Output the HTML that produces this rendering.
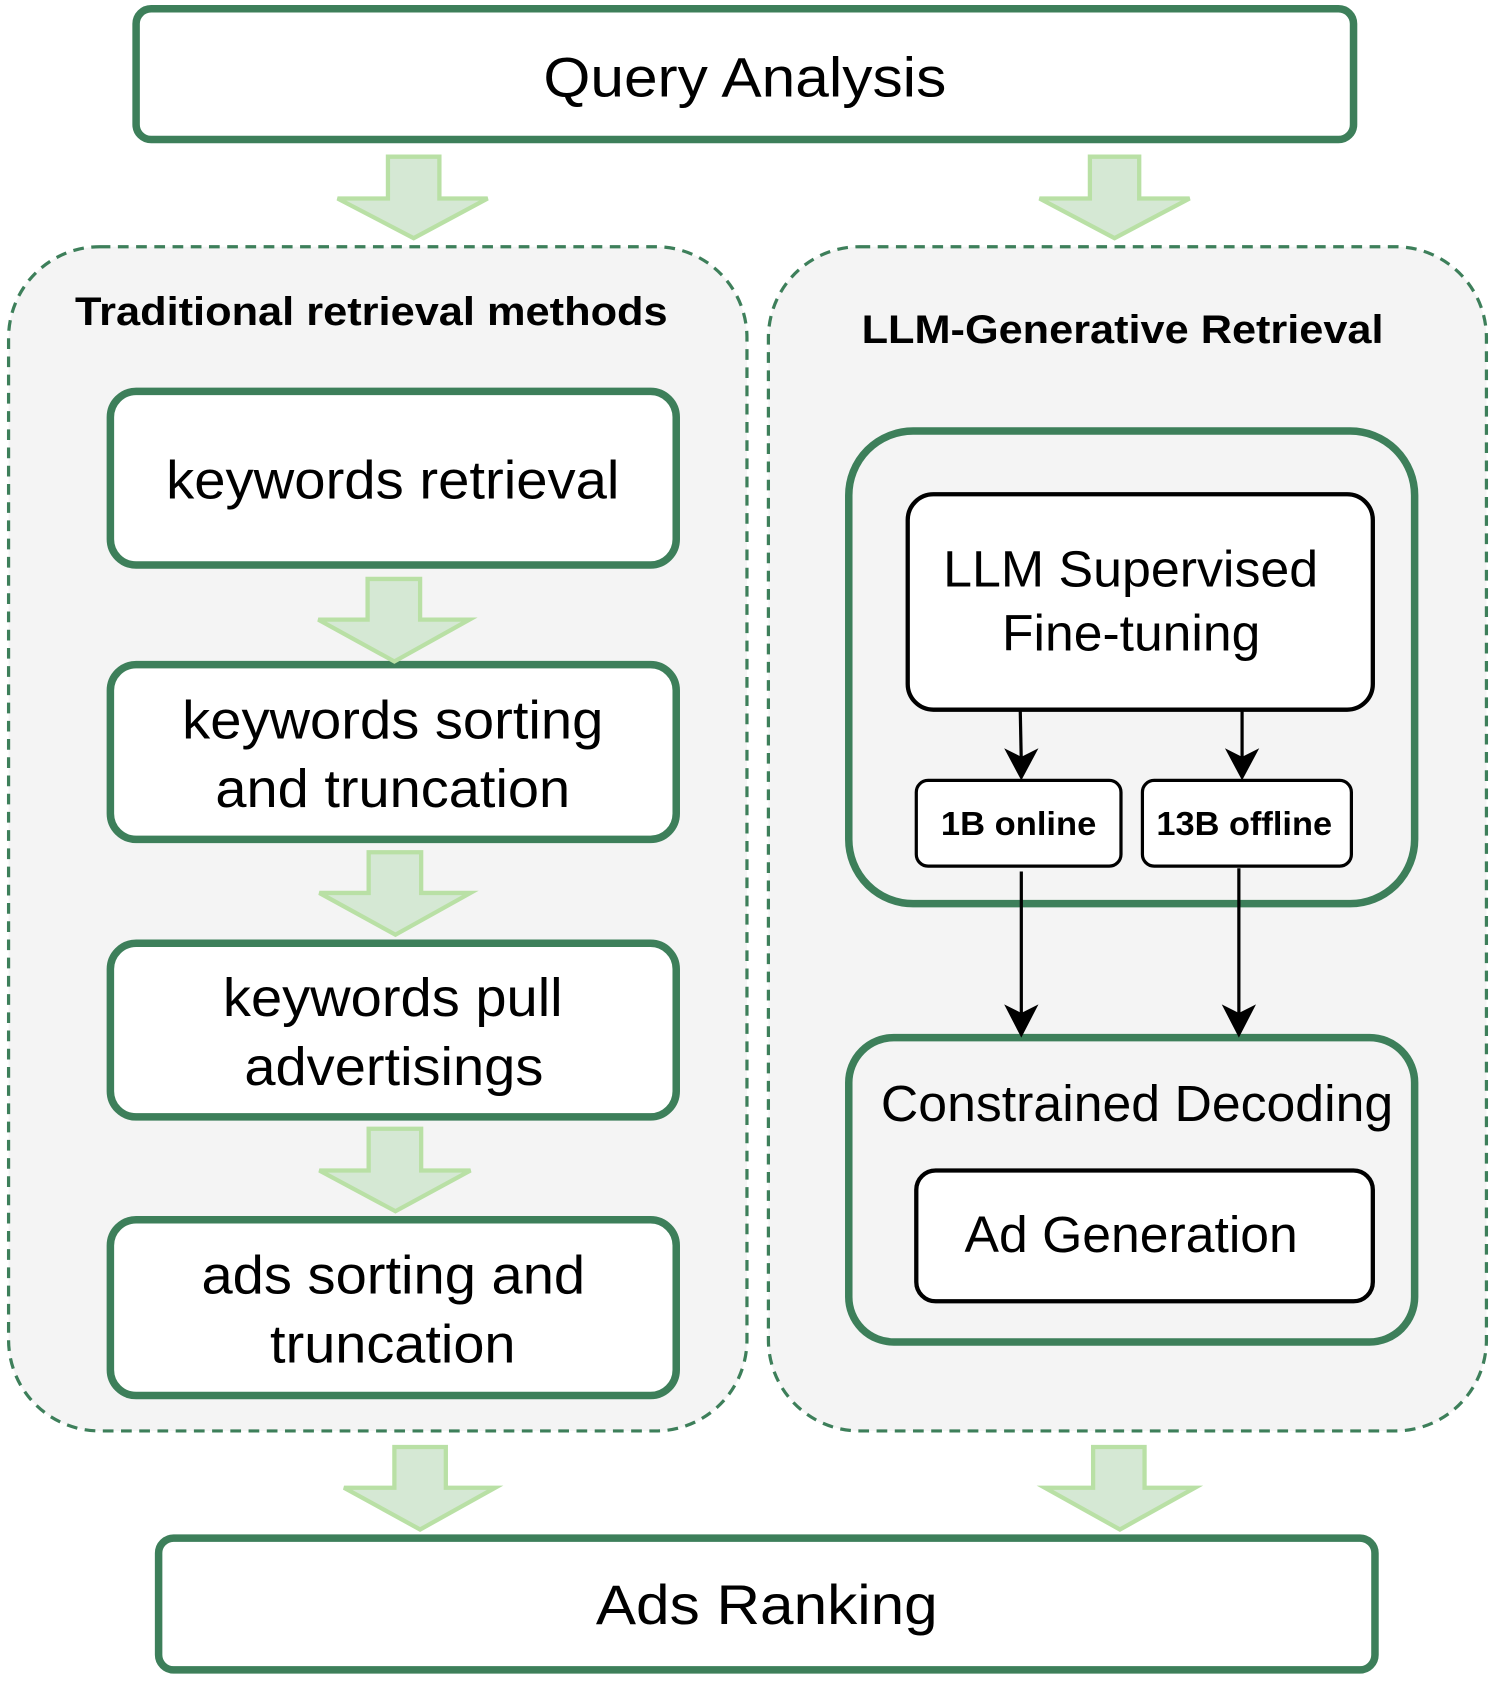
<!DOCTYPE html>
<html><head><meta charset="utf-8"><style>html,body{margin:0;padding:0;background:#fff}svg{display:block}</style></head>
<body>
<svg width="1495" height="1683" viewBox="0 0 1395 1570" xmlns="http://www.w3.org/2000/svg" font-family="Liberation Sans, sans-serif">
<g fill="#f4f4f4" stroke="#3d7f5a" stroke-width="3" stroke-dasharray="10 7">
<rect x="8" y="230" width="689" height="1105" rx="85"/>
<rect x="717" y="230" width="670" height="1105" rx="85"/>
</g>
<g fill="#fff" stroke="#3d7f5a" stroke-width="7">
<rect x="127" y="8" width="1136" height="122" rx="14"/>
<rect x="148" y="1435" width="1135" height="123" rx="14"/>
<rect x="103" y="365" width="528" height="162" rx="24"/>
<rect x="103" y="620" width="528" height="163" rx="24"/>
<rect x="103" y="880" width="528" height="162" rx="24"/>
<rect x="103" y="1138" width="528" height="164" rx="24"/>
</g>
<g fill="#f4f4f4" stroke="#3d7f5a" stroke-width="7">
<rect x="792" y="402" width="528" height="441" rx="60"/>
<rect x="792" y="968" width="528" height="284" rx="42"/>
</g>
<g fill="#fff" stroke="#000" stroke-width="4">
<rect x="847" y="461" width="434" height="201" rx="24"/>
<rect x="855" y="1092" width="426" height="122" rx="18"/>
</g>
<g fill="#fff" stroke="#000" stroke-width="3">
<rect x="855" y="728" width="191" height="80" rx="11"/>
<rect x="1066" y="728" width="195" height="80" rx="11"/>
</g>
<g fill="#d5e8d4" stroke="#b9e0a5" stroke-width="4">
<path d="M362 146 H410 V185 H455 L386 222 L315 185 H362 Z"/>
<path d="M1017 146 H1063 V185 H1110 L1040 222 L970 185 H1017 Z"/>
<path d="M343 540 H392 V578 H438 L368 617 L297 578 H343 Z"/>
<path d="M344 795 H393 V833 H439 L369 872 L298 833 H344 Z"/>
<path d="M344 1053 H393 V1092 H439 L369 1130 L298 1092 H344 Z"/>
<path d="M368 1350 H416 V1388 H462 L392 1427 L321 1388 H368 Z"/>
<path d="M1020 1350 H1068 V1388 H1115 L1045 1427 L975 1388 H1020 Z"/>
</g>
<g stroke="#000" stroke-width="3" fill="none">
<line x1="952" y1="662" x2="953" y2="712"/>
<line x1="1159" y1="662" x2="1159" y2="712"/>
<line x1="953" y1="813" x2="953" y2="950"/>
<line x1="1156" y1="810" x2="1156" y2="950"/>
</g>
<g fill="#000">
<path d="M937 698 L953 728 L969 698 L953 706 Z"/>
<path d="M1143 698 L1159 728 L1175 698 L1159 706 Z"/>
<path d="M937 937 L953 968 L969 937 L953 945 Z"/>
<path d="M1140 937 L1156 968 L1172 937 L1156 945 Z"/>
</g>
<g fill="#000" lengthAdjust="spacingAndGlyphs">
<text x="507" y="90" font-size="52" textLength="376" lengthAdjust="spacingAndGlyphs">Query Analysis</text>
<text x="556" y="1515" font-size="52" textLength="319" lengthAdjust="spacingAndGlyphs">Ads Ranking</text>
<text x="70" y="303" font-size="37" font-weight="bold" textLength="553" lengthAdjust="spacingAndGlyphs">Traditional retrieval methods</text>
<text x="804" y="320" font-size="37" font-weight="bold" textLength="487" lengthAdjust="spacingAndGlyphs">LLM-Generative Retrieval</text>
<text x="155" y="465" font-size="50" textLength="423" lengthAdjust="spacingAndGlyphs">keywords retrieval</text>
<text x="170" y="689" font-size="50" textLength="393" lengthAdjust="spacingAndGlyphs">keywords sorting</text>
<text x="201" y="753" font-size="50" textLength="331" lengthAdjust="spacingAndGlyphs">and truncation</text>
<text x="208" y="948" font-size="50" textLength="317" lengthAdjust="spacingAndGlyphs">keywords pull</text>
<text x="228" y="1012" font-size="50" textLength="279" lengthAdjust="spacingAndGlyphs">advertisings</text>
<text x="188" y="1207" font-size="50" textLength="358" lengthAdjust="spacingAndGlyphs">ads sorting and</text>
<text x="252" y="1271" font-size="50" textLength="229" lengthAdjust="spacingAndGlyphs">truncation</text>
<text x="880" y="547" font-size="48" textLength="350" lengthAdjust="spacingAndGlyphs">LLM Supervised</text>
<text x="935" y="607" font-size="48" textLength="241" lengthAdjust="spacingAndGlyphs">Fine-tuning</text>
<text x="878" y="779" font-size="31" font-weight="bold" textLength="145" lengthAdjust="spacingAndGlyphs">1B online</text>
<text x="1079" y="779" font-size="31" font-weight="bold" textLength="164" lengthAdjust="spacingAndGlyphs">13B offline</text>
<text x="822" y="1046" font-size="48" textLength="478" lengthAdjust="spacingAndGlyphs">Constrained Decoding</text>
<text x="900" y="1168" font-size="48" textLength="311" lengthAdjust="spacingAndGlyphs">Ad Generation</text>
</g>
</svg>
</body></html>
